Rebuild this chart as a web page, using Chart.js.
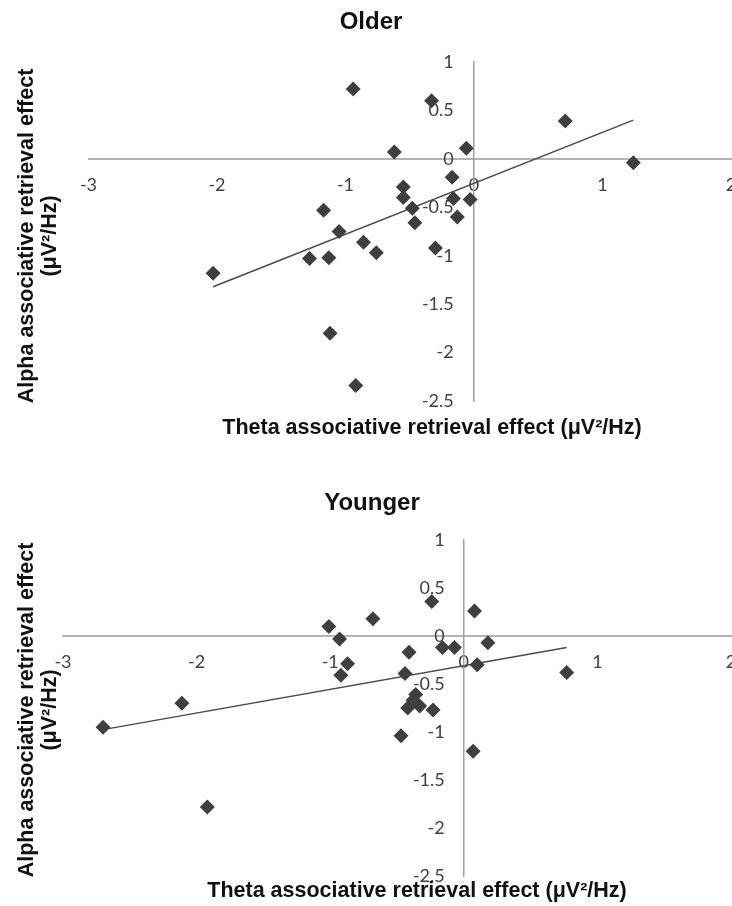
<!DOCTYPE html>
<html>
<head>
<meta charset="utf-8">
<script src="https://cdn.jsdelivr.net/npm/chart.js@4.4.1/dist/chart.umd.min.js"></script>
<style>
  html, body { margin: 0; padding: 0; background: #ffffff; width: 732px; height: 906px; overflow: hidden; position: relative; }
  .panel { position: absolute; left: 0; width: 760px; height: 453px; }
  .panel canvas { display: block; }
  .ttl { position: absolute; font-family: "Liberation Sans", Arial, sans-serif; font-weight: bold; color: #111111;
         white-space: nowrap; line-height: 1; transform: translate(-50%, -50%); }
  .ytl { position: absolute; font-family: "Liberation Sans", Arial, sans-serif; font-weight: bold; color: #111111;
         white-space: nowrap; text-align: center; line-height: 23px; font-size: 21.5px;
         transform: translate(-50%, -50%) rotate(-90deg); }
</style>
</head>
<body>
<div class="panel" style="top:0px"><canvas id="older" width="760" height="453"></canvas></div>
<div class="panel" style="top:453px"><canvas id="younger" width="760" height="453"></canvas></div>

<div class="ttl" id="t1" style="left:371px; top:21px; font-size:24px;"></div>
<div class="ttl" id="x1" style="left:432px; top:428px; font-size:21.5px;"></div>
<div class="ytl" id="y1" style="left:38px; top:236px;"></div>

<div class="ttl" id="t2" style="left:372px; top:502px; font-size:24px;"></div>
<div class="ttl" id="x2" style="left:417px; top:891px; font-size:21.5px;"></div>
<div class="ytl" id="y2" style="left:38px; top:710px;"></div>

<script>
// ---- Data ----
const panelTitles = ['Older', 'Younger'];
const xAxisTitle = 'Theta associative retrieval effect (μV²/Hz)';
const yAxisTitleLines = ['Alpha associative retrieval effect', '(μV²/Hz)'];

const xTickValues = [-3, -2, -1, 0, 1, 2];
const yTickValues = [1, 0.5, 0, -0.5, -1, -1.5, -2, -2.5];

const olderTheta = [-0.94, -0.33, 0.71, -0.62, -0.06, 1.24, -0.17, -0.55, -0.55, -0.16, -0.03, -0.48,
                    -1.17, -0.13, -0.46, -1.05, -0.86, -0.30, -0.76, -1.28, -1.13, -2.03, -1.12, -0.92];
const olderAlpha = [0.72, 0.60, 0.39, 0.07, 0.11, -0.04, -0.19, -0.29, -0.40, -0.41, -0.42, -0.51,
                    -0.53, -0.60, -0.66, -0.75, -0.86, -0.92, -0.97, -1.03, -1.02, -1.18, -1.80, -2.34];
const olderTrendTheta = [-2.03, 1.24];
const olderTrendAlpha = [-1.32, 0.40];

const youngerTheta = [-0.24, 0.08, -0.68, -1.01, -0.93, 0.18, -0.41, -0.16, -0.07, -0.87, -0.92, -0.44,
                      0.10, 0.77, -2.11, -2.70, -0.36, -0.38, -0.42, -0.33, -0.23, -0.47, 0.07, -1.92];
const youngerAlpha = [0.36, 0.26, 0.18, 0.10, -0.03, -0.07, -0.17, -0.12, -0.12, -0.29, -0.41, -0.39,
                      -0.30, -0.38, -0.70, -0.95, -0.61, -0.67, -0.75, -0.73, -0.77, -1.04, -1.20, -1.78];
const youngerTrendTheta = [-2.68, 0.77];
const youngerTrendAlpha = [-0.97, -0.12];

// ---- Titles as real text ----
document.getElementById('t1').textContent = panelTitles[0];
document.getElementById('t2').textContent = panelTitles[1];
document.getElementById('x1').textContent = xAxisTitle;
document.getElementById('x2').textContent = xAxisTitle;
for (const id of ['y1', 'y2']) {
  const el = document.getElementById(id);
  yAxisTitleLines.forEach((line, i) => {
    if (i) el.appendChild(document.createElement('br'));
    el.appendChild(document.createTextNode(line));
  });
}

function toPoints(xs, ys) { return xs.map((x, i) => ({ x: x, y: ys[i] })); }

const tickFont = { family: 'Lato, "Open Sans", sans-serif', size: 18 };
const tickColor = '#404040';

function makeChart(canvasId, xs, ys, txs, tys, padding, labelAxisValue, xLabelPad) {
  return new Chart(document.getElementById(canvasId), {
    type: 'scatter',
    data: {
      datasets: [
        {
          data: toPoints(xs, ys),
          xAxisID: 'x', yAxisID: 'y',
          pointStyle: 'rectRot', pointRadius: 7.5, pointHoverRadius: 7.5,
          backgroundColor: '#3f3f3f', borderColor: '#3f3f3f', borderWidth: 0,
          showLine: false, order: 1
        },
        {
          data: toPoints(txs, tys),
          xAxisID: 'x', yAxisID: 'y',
          showLine: true, pointRadius: 0, pointHoverRadius: 0,
          borderColor: '#4a4a4a', borderWidth: 1.5, fill: false, order: 2
        }
      ]
    },
    options: {
      responsive: false, animation: false, events: [],
      layout: { padding: padding },
      plugins: { legend: { display: false }, tooltip: { enabled: false }, title: { display: false } },
      scales: {
        x: {
          type: 'linear', min: -3, max: 2, position: { y: 0 },
          afterBuildTicks: (s) => { s.ticks = xTickValues.map(v => ({ value: v })); },
          ticks: { font: tickFont, color: tickColor, padding: xLabelPad, maxRotation: 0, autoSkip: false,
                   callback: (v) => String(v) },
          grid: { display: false, drawTicks: false },
          border: { display: true, color: '#b4b4b4', width: 2 }
        },
        y: {
          type: 'linear', min: -2.5, max: 1, position: { x: 0 },
          ticks: { display: false },
          grid: { display: false, drawTicks: false },
          border: { display: true, color: '#a0a0a0', width: 1.5 }
        },
        ylab: {
          type: 'linear', axis: 'y', min: -2.5, max: 1, position: { x: labelAxisValue },
          afterBuildTicks: (s) => { s.ticks = yTickValues.map(v => ({ value: v })); },
          ticks: { font: tickFont, color: tickColor, padding: 0, autoSkip: false,
                   callback: (v) => String(v) },
          grid: { display: false, drawTicks: false },
          border: { display: false }
        }
      }
    }
  });
}

function drawAll() {
  // Older: chart area x 88.5..731, y 62..401 (canvas at top 0)
  makeChart('older', olderTheta, olderAlpha, olderTrendTheta, olderTrendAlpha,
            { left: 88.5, right: 29, top: 62, bottom: 52 }, -0.158, 16);
  // Younger: chart area x 63..731, y 540..876 in page (canvas at top 453)
  makeChart('younger', youngerTheta, youngerAlpha, youngerTrendTheta, youngerTrendAlpha,
            { left: 63, right: 29, top: 87, bottom: 30 }, -0.143, 15);
}

if (document.fonts && document.fonts.load) {
  Promise.all([document.fonts.load('18px Lato'), document.fonts.load('bold 21px "Liberation Sans"')])
    .then(drawAll, drawAll);
} else {
  drawAll();
}
</script>
</body>
</html>
